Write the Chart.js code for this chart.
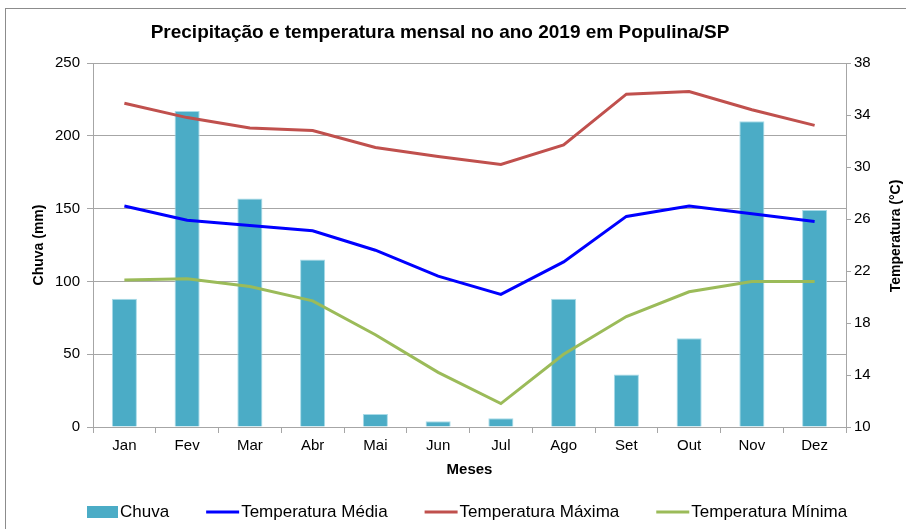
<!DOCTYPE html>
<html>
<head>
<meta charset="utf-8">
<script src="https://cdn.jsdelivr.net/npm/chart.js@4/dist/chart.umd.min.js"></script>
<style>
  html, body { margin: 0; padding: 0; background: #fff; }
  canvas { display: block; }
</style>
</head>
<body>
<canvas id="chart" width="906" height="529"></canvas>
<script>
const meses = ['Jan', 'Fev', 'Mar', 'Abr', 'Mai', 'Jun', 'Jul', 'Ago', 'Set', 'Out', 'Nov', 'Dez'];
const chuva = [88, 217, 157, 115, 9, 4, 6, 88, 36, 61, 210, 149];
const tempMedia = [27.0, 25.9, 25.5, 25.1, 23.6, 21.6, 20.2, 22.7, 26.2, 27.0, 26.4, 25.8];
const tempMaxima = [34.9, 33.8, 33.0, 32.8, 31.5, 30.8, 30.2, 31.7, 35.6, 35.8, 34.4, 33.2];
const tempMinima = [21.3, 21.4, 20.8, 19.7, 17.1, 14.2, 11.8, 15.6, 18.5, 20.4, 21.2, 21.2];

const FONT = "'Liberation Sans', Arial, sans-serif";
const GRID = '#a6a6a6';

// frame, title, right axis title and the legend row
const decorations = {
  id: 'decorations',
  beforeDraw(chart) {
    const ctx = chart.ctx;
    ctx.save();
    ctx.fillStyle = '#fff';
    ctx.fillRect(0, 0, chart.width, chart.height);
    ctx.strokeStyle = '#8c8c8c';
    ctx.lineWidth = 1;
    ctx.strokeRect(5.5, 8.5, 1000, 600);
    ctx.restore();
  },
  afterDraw(chart) {
    const ctx = chart.ctx;
    ctx.save();
    ctx.fillStyle = '#000';
    ctx.textAlign = 'center';
    ctx.textBaseline = 'middle';
    ctx.font = 'bold 19px ' + FONT;
    ctx.fillText('Precipitação e temperatura mensal no ano 2019 em Populina/SP', 440, 33);
    ctx.save();
    ctx.translate(896, 236);
    ctx.rotate(-Math.PI / 2);
    ctx.font = 'bold 14px ' + FONT;
    ctx.fillText('Temperatura (°C)', 0, 0);
    ctx.restore();

    // legend: Chuva first, then the three temperature lines
    const order = [3, 0, 1, 2];
    let x = 87;
    const y = 512;
    ctx.font = '17px ' + FONT;
    ctx.textAlign = 'left';
    order.forEach(i => {
      const ds = chart.data.datasets[i];
      if (ds.type === 'bar') {
        ctx.fillStyle = ds.backgroundColor;
        ctx.fillRect(x, y - 6, 31, 12);
        x += 33;
      } else {
        ctx.strokeStyle = ds.borderColor;
        ctx.lineWidth = 3;
        ctx.beginPath();
        ctx.moveTo(x, y);
        ctx.lineTo(x + 33, y);
        ctx.stroke();
        x += 35;
      }
      ctx.fillStyle = '#000';
      ctx.fillText(ds.label, x, y);
      x += ctx.measureText(ds.label).width + 37;
    });
    ctx.restore();
  }
};

new Chart(document.getElementById('chart'), {
  data: {
    labels: meses,
    datasets: [
      {
        type: 'line', label: 'Temperatura Média', data: tempMedia, yAxisID: 'yT',
        borderColor: '#0000ff', backgroundColor: '#0000ff', borderWidth: 3,
        pointRadius: 0, tension: 0, order: 1
      },
      {
        type: 'line', label: 'Temperatura Máxima', data: tempMaxima, yAxisID: 'yT',
        borderColor: '#c0504d', backgroundColor: '#c0504d', borderWidth: 3,
        pointRadius: 0, tension: 0, order: 1
      },
      {
        type: 'line', label: 'Temperatura Mínima', data: tempMinima, yAxisID: 'yT',
        borderColor: '#9bbb59', backgroundColor: '#9bbb59', borderWidth: 3,
        pointRadius: 0, tension: 0, order: 1
      },
      {
        type: 'bar', label: 'Chuva', data: chuva, yAxisID: 'yC',
        backgroundColor: '#4bacc6', borderColor: '#a9dbe8', borderWidth: 1,
        barPercentage: 0.4, categoryPercentage: 1, order: 2
      }
    ]
  },
  options: {
    responsive: false,
    animation: false,
    layout: { padding: { top: 63, left: 0, right: 0, bottom: 34 } },
    plugins: {
      title: { display: false },
      tooltip: { enabled: false },
      legend: { display: false }
    },
    scales: {
      x: {
        grid: { drawOnChartArea: false, drawTicks: true, tickLength: 6, color: GRID },
        border: { color: GRID },
        ticks: { color: '#000', font: { family: FONT, size: 15 }, padding: 4 },
        title: {
          display: true, text: 'Meses', color: '#000',
          font: { family: FONT, size: 15, weight: 'bold' },
          padding: { top: 0, bottom: 16 }
        },
        afterFit(scale) { scale.height = 68; }
      },
      yC: {
        position: 'left', min: 0, max: 250,
        ticks: { stepSize: 50, color: '#000', font: { family: FONT, size: 15 }, padding: 7 },
        grid: { color: GRID, tickLength: 6 },
        border: { color: GRID },
        title: {
          display: true, text: 'Chuva (mm)', color: '#000',
          font: { family: FONT, size: 14, weight: 'bold' },
          padding: { top: 31, bottom: 0 }
        },
        afterFit(scale) { scale.width = 93; }
      },
      yT: {
        position: 'right', min: 10, max: 38,
        ticks: { stepSize: 4, color: '#000', font: { family: FONT, size: 15 }, padding: 3 },
        grid: { drawOnChartArea: false, color: GRID, tickLength: 5 },
        border: { color: GRID },
        afterFit(scale) { scale.width = 60; }
      }
    }
  },
  plugins: [decorations]
});
</script>
</body>
</html>
